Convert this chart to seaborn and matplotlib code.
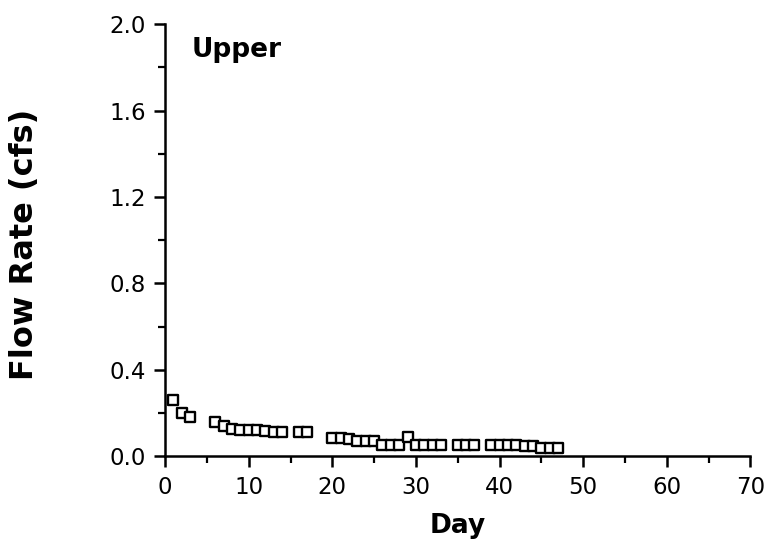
import matplotlib
matplotlib.use("Agg")
import matplotlib.pyplot as plt
from matplotlib.ticker import MultipleLocator, FormatStrFormatter
import seaborn as sns
import pandas as pd

# Daily flow measurements at the upper station
days = [1, 2, 3, 6, 7, 8, 9, 10, 11, 12, 13, 14, 16, 17,
        20, 21, 22, 23, 24, 25, 26, 27, 28, 29, 30, 31, 32, 33,
        35, 36, 37, 39, 40, 41, 42, 43, 44, 45, 46, 47]
flow_cfs = [0.26, 0.20, 0.18, 0.16, 0.14, 0.125, 0.12, 0.12, 0.12, 0.115, 0.11, 0.11, 0.11, 0.11,
            0.085, 0.085, 0.08, 0.07, 0.07, 0.07, 0.05, 0.05, 0.05, 0.09, 0.05, 0.05, 0.05, 0.05,
            0.05, 0.05, 0.05, 0.05, 0.05, 0.05, 0.05, 0.045, 0.045, 0.04, 0.04, 0.04]

df = pd.DataFrame({"Day": days, "Flow": flow_cfs})

sns.set_style("ticks")
plt.rcParams["font.family"] = ["DejaVu Sans"]
plt.rcParams["text.color"] = "black"
plt.rcParams["axes.labelcolor"] = "black"

fig = plt.figure(figsize=(7.68, 5.49), dpi=100)
ax = fig.add_axes([0.215, 0.169, 0.762, 0.787])

sns.scatterplot(data=df, x="Day", y="Flow", ax=ax, marker="s", s=62,
                facecolor="white", edgecolor="black", linewidth=1.7, zorder=3)

ax.set_xlim(0, 70)
ax.set_ylim(0, 2.0)
ax.xaxis.set_major_locator(MultipleLocator(10))
ax.xaxis.set_minor_locator(MultipleLocator(5))
ax.yaxis.set_major_locator(MultipleLocator(0.4))
ax.yaxis.set_minor_locator(MultipleLocator(0.2))
ax.yaxis.set_major_formatter(FormatStrFormatter("%.1f"))

for side in ("top", "right"):
    ax.spines[side].set_visible(False)
for side in ("left", "bottom"):
    ax.spines[side].set_linewidth(1.8)
    ax.spines[side].set_color("black")

ax.tick_params(which="major", direction="out", length=8, width=1.8, labelsize=16.5,
               colors="black", labelcolor="black", pad=6)
ax.tick_params(which="minor", direction="out", length=5, width=1.6, colors="black")

ax.set_xlabel("Day", fontsize=19, fontweight="bold", labelpad=10, color="black")
ax.set_ylabel("Flow Rate (cfs)", fontsize=23, fontweight="bold", color="black")
ax.yaxis.set_label_coords(-0.213, 0.49)

ax.text(3.2, 1.88, "Upper", fontsize=19, fontweight="bold", ha="left", va="center", color="black")

fig.savefig("out.png", dpi=100)
